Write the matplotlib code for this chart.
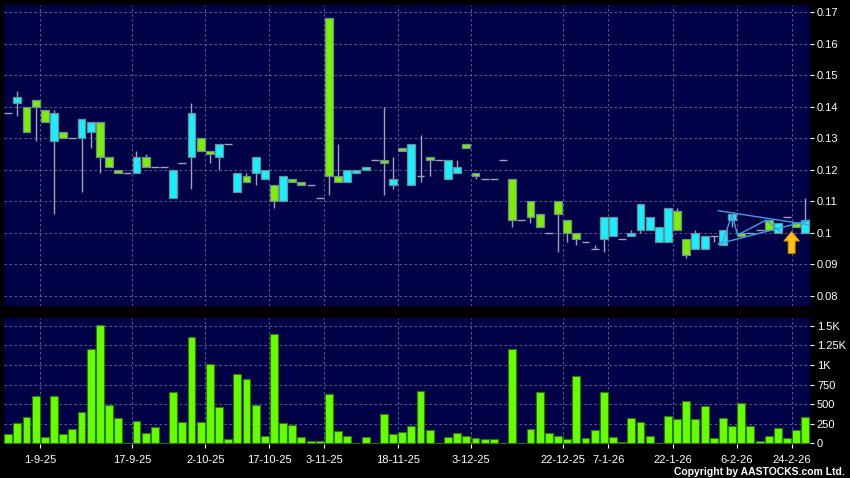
import numpy as np
import matplotlib
matplotlib.use("Agg")
import matplotlib.pyplot as plt
from matplotlib.patches import FancyArrow

plt.rcParams['font.family'] = ['Liberation Sans', 'DejaVu Sans']

# daily candles (open, high, low, close), one per trading session
opens = [0.138, 0.141, 0.140, 0.142, 0.139, 0.129, 0.132, 0.130, 0.130, 0.132,
         0.135, 0.124, 0.120, 0.119, 0.119, 0.124, 0.121, 0.121, 0.111, 0.122,
         0.124, 0.130, 0.126, 0.124, 0.128, 0.113, 0.118, 0.119, 0.117, 0.115,
         0.110, 0.117, 0.116, 0.115, 0.111, 0.168, 0.118, 0.116, 0.119, 0.120,
         0.123, 0.123, 0.115, 0.127, 0.115, 0.118, 0.124, 0.123, 0.117, 0.119,
         0.128, 0.119, 0.117, 0.117, 0.123, 0.117, 0.104, 0.110, 0.106, 0.100,
         0.110, 0.104, 0.100, 0.097, 0.095, 0.098, 0.099, 0.098, 0.099, 0.101,
         0.101, 0.097, 0.097, 0.107, 0.098, 0.095, 0.095, 0.099, 0.096, 0.104,
         0.100, 0.100, 0.101, 0.104, 0.100, 0.105, 0.103, 0.100]
highs = [0.138, 0.145, 0.140, 0.142, 0.139, 0.139, 0.132, 0.130, 0.136, 0.135,
         0.135, 0.124, 0.120, 0.119, 0.126, 0.125, 0.121, 0.121, 0.120, 0.122,
         0.141, 0.130, 0.126, 0.128, 0.128, 0.119, 0.119, 0.124, 0.120, 0.115,
         0.118, 0.117, 0.116, 0.115, 0.111, 0.168, 0.128, 0.120, 0.120, 0.121,
         0.123, 0.140, 0.124, 0.127, 0.128, 0.131, 0.124, 0.123, 0.123, 0.123,
         0.128, 0.119, 0.117, 0.117, 0.123, 0.117, 0.104, 0.110, 0.106, 0.100,
         0.110, 0.104, 0.100, 0.097, 0.096, 0.105, 0.105, 0.098, 0.101, 0.109,
         0.105, 0.102, 0.108, 0.108, 0.098, 0.101, 0.099, 0.099, 0.101, 0.106,
         0.100, 0.100, 0.101, 0.104, 0.103, 0.105, 0.103, 0.111]
lows = [0.138, 0.137, 0.132, 0.129, 0.135, 0.106, 0.130, 0.130, 0.113, 0.127,
        0.119, 0.121, 0.119, 0.119, 0.119, 0.121, 0.121, 0.121, 0.111, 0.122,
        0.114, 0.126, 0.122, 0.120, 0.128, 0.113, 0.116, 0.115, 0.117, 0.108,
        0.110, 0.116, 0.115, 0.115, 0.111, 0.112, 0.116, 0.116, 0.119, 0.120,
        0.123, 0.112, 0.114, 0.126, 0.115, 0.116, 0.118, 0.123, 0.117, 0.119,
        0.127, 0.117, 0.117, 0.117, 0.123, 0.102, 0.104, 0.103, 0.102, 0.100,
        0.094, 0.097, 0.096, 0.097, 0.095, 0.094, 0.099, 0.098, 0.099, 0.100,
        0.101, 0.097, 0.097, 0.101, 0.092, 0.095, 0.095, 0.097, 0.096, 0.102,
        0.099, 0.100, 0.101, 0.101, 0.100, 0.105, 0.102, 0.100]
closes = [0.138, 0.143, 0.132, 0.140, 0.135, 0.138, 0.130, 0.130, 0.136, 0.135,
          0.124, 0.121, 0.119, 0.119, 0.124, 0.121, 0.121, 0.121, 0.120, 0.122,
          0.138, 0.126, 0.125, 0.128, 0.128, 0.119, 0.116, 0.124, 0.120, 0.110,
          0.118, 0.116, 0.115, 0.115, 0.111, 0.118, 0.116, 0.120, 0.120, 0.121,
          0.123, 0.122, 0.117, 0.126, 0.128, 0.118, 0.123, 0.123, 0.123, 0.121,
          0.127, 0.118, 0.117, 0.117, 0.123, 0.104, 0.104, 0.105, 0.102, 0.100,
          0.106, 0.100, 0.098, 0.097, 0.095, 0.105, 0.105, 0.098, 0.100, 0.109,
          0.105, 0.102, 0.108, 0.101, 0.093, 0.100, 0.099, 0.099, 0.101, 0.106,
          0.099, 0.100, 0.101, 0.101, 0.103, 0.105, 0.102, 0.104]
volumes = [119, 263, 336, 608, 77, 608, 115, 187, 395, 1199,
           1505, 485, 327, 10, 289, 128, 204, 8, 655, 272,
           1360, 272, 1016, 468, 55, 888, 816, 485, 98, 1398,
           263, 234, 81, 30, 30, 633, 153, 89, 10, 81,
           10, 374, 119, 149, 217, 663, 170, 10, 81, 136,
           98, 68, 51, 55, 10, 1207, 10, 187, 655, 136,
           89, 51, 854, 68, 170, 655, 77, 15, 319, 272,
           89, 10, 344, 310, 544, 310, 480, 68, 319, 225,
           510, 225, 30, 94, 200, 64, 174, 336]

date_labels = ['1-9-25', '17-9-25', '2-10-25', '17-10-25', '3-11-25', '18-11-25',
               '3-12-25', '22-12-25', '7-1-26', '22-1-26', '6-2-26', '24-2-26']
date_index = [4, 14, 22, 29, 35, 43, 51, 61, 66, 73, 80, 86]

price_ticks = [0.08, 0.09, 0.10, 0.11, 0.12, 0.13, 0.14, 0.15, 0.16, 0.17]
price_tick_labels = ['0.08', '0.09', '0.1', '0.11', '0.12', '0.13', '0.14', '0.15', '0.16', '0.17']
vol_ticks = [0, 250, 500, 750, 1000, 1250, 1500]
vol_tick_labels = ['0', '250', '500', '750', '1K', '1.25K', '1.5K']

# triangle pattern drawn on the chart
tri_upper_x = [77.5, 87.5]
tri_upper_y = [0.107, 0.1025]
tri_lower_x = [77.5, 87.5]
tri_lower_y = [0.0965, 0.104]
wave_x = [77.9, 79.0, 79.6, 82.7, 84.2]
wave_y = [0.0965, 0.1058, 0.0993, 0.104, 0.1005]
signal_x = 85.5
signal_y = [0.0935, 0.1004]

BG = '#000046'
UP = '#19F0FF'
DOWN = '#7CF000'
EDGE = '#6E8C96'
GRID = '#6A6AA0'

x = np.arange(len(opens))
o = np.array(opens); h = np.array(highs); l = np.array(lows); c = np.array(closes)
grid_x = [d - 0.5 for d in date_index]

fig = plt.figure(figsize=(8.5, 4.78), dpi=100, facecolor='black')
ax = fig.add_axes([0.0047, 0.3598, 0.9482, 0.6297], facecolor=BG)
axv = fig.add_axes([0.0047, 0.0711, 0.9482, 0.2636], facecolor=BG)

for a in (ax, axv):
    for s in a.spines.values():
        s.set_visible(False)
    a.set_xlim(-0.46, 87.5)
    a.yaxis.tick_right()
    a.tick_params(axis='y', colors='white', labelsize=8, length=3, width=0.8, pad=2,
                  direction='out')
    for gx in grid_x:
        a.axvline(gx, color=GRID, lw=0.6, ls=(0, (3, 3)), zorder=0)

# price panel
ax.set_ylim(0.0768, 0.1722)
ax.set_yticks(price_ticks)
ax.set_yticklabels(price_tick_labels)
for p in price_ticks:
    ax.axhline(p, color=GRID, lw=0.6, ls=(0, (3, 3)), zorder=0)
ax.set_xticks([])

w = 0.86
ax.vlines(x, l, h, color='#A0A0B8', lw=1.0, zorder=2)
up = c > o
down = c < o
flat = c == o
ax.bar(x[up], (c - o)[up], bottom=o[up], width=w, color=UP, edgecolor=EDGE, lw=0.9, zorder=3)
ax.bar(x[down], (o - c)[down], bottom=c[down], width=w, color=DOWN, edgecolor=EDGE, lw=0.9, zorder=3)
ax.hlines(c[flat], x[flat] - w / 2, x[flat] + w / 2, color='#A0A0B8', lw=1.0, zorder=3)

ax.plot(tri_upper_x, tri_upper_y, color='#3AA0E8', lw=1.0, zorder=4)
ax.plot(tri_lower_x, tri_lower_y, color='#3AA0E8', lw=1.0, zorder=4)
ax.plot(wave_x, wave_y, color='#3AA0E8', lw=1.0, zorder=4)
ax.add_patch(FancyArrow(signal_x, signal_y[0], 0, signal_y[1] - signal_y[0],
                        width=0.75, head_width=1.7, head_length=0.003,
                        length_includes_head=True, facecolor='#FFC21A',
                        edgecolor='#D08A00', lw=0.8, zorder=5))

# volume panel
axv.set_ylim(-8, 1600)
axv.set_yticks(vol_ticks)
axv.set_yticklabels(vol_tick_labels)
for v in vol_ticks[1:]:
    axv.axhline(v, color=GRID, lw=0.6, ls=(0, (3, 3)), zorder=0)
axv.bar(x, volumes, width=w, color='#66FF00', edgecolor='#2E7A00', lw=0.8, zorder=3)
axv.set_xticks(grid_x)
axv.set_xticklabels(date_labels)
axv.tick_params(axis='x', colors='white', labelsize=8, length=3, width=0.8, pad=5)

fig.text(0.994, 0.003, 'Copyright by AASTOCKS.com Ltd.', color='white', fontsize=7.5,
         ha='right', va='bottom', fontweight='bold')

fig.savefig('out.png', dpi=100, facecolor='black')
